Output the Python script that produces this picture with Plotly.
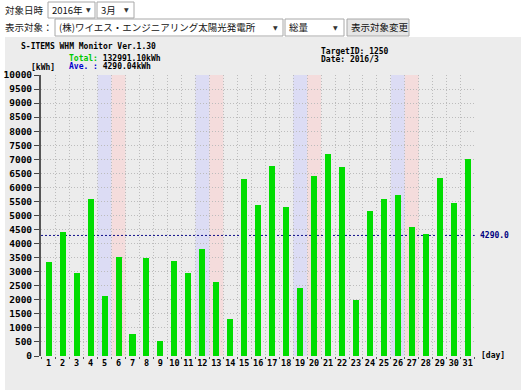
import plotly.graph_objects as go

# ---- data ----
days = list(range(1, 32))
kwh = [3330, 4400, 2950, 5570, 2150, 3530, 800, 3480, 530, 3370,
       2950, 3800, 2620, 1320, 6300, 5380, 6750, 5300, 2420, 6420,
       7180, 6720, 2000, 5170, 5580, 5720, 4600, 4350, 6320, 5430, 7020]
saturdays = [5, 12, 19, 26]
sundays = [6, 13, 20, 27]
y_ticks = list(range(0, 10001, 500))
total_kwh = 132991.10
ave_kwh = 4290.04

W, H = 524, 390
L, R, T, B = 41, 49, 75, 34
PW, PH = W - L - R, H - T - B


def px(x):
    return (x - L) / PW


def py(y):
    return (H - B - y) / PH


MONO = "DejaVu Sans Mono"
JP = "Noto Sans CJK JP"

fig = go.Figure()
fig.add_trace(go.Bar(x=days, y=kwh, width=0.43, marker=dict(color="#00dd00", line=dict(width=0)),
                     hoverinfo="skip"))

shapes = []
# gray panel
shapes.append(dict(type="rect", xref="paper", yref="paper", x0=px(5), x1=px(521), y0=py(37), y1=py(392),
                   fillcolor="#ececec", line=dict(width=0), layer="below"))
for d in saturdays:
    shapes.append(dict(type="rect", xref="x", yref="y", x0=d - 0.5, x1=d + 0.5, y0=0, y1=10000,
                       fillcolor="#dcdcf4", line=dict(width=0), layer="below"))
for d in sundays:
    shapes.append(dict(type="rect", xref="x", yref="y", x0=d - 0.5, x1=d + 0.5, y0=0, y1=10000,
                       fillcolor="#f4dcdc", line=dict(width=0), layer="below"))
shapes.append(dict(type="line", xref="x", yref="y", x0=0.45, x1=31.5, y0=ave_kwh, y1=ave_kwh,
                   line=dict(color="#10108a", width=1, dash="2px,2px"), layer="below"))

annotations = []


def text(x, y, s, size=8, color="black", family=MONO, xanchor="left"):
    annotations.append(dict(xref="paper", yref="paper", x=px(x), y=py(y), text=s, showarrow=False,
                            xanchor=xanchor, yanchor="middle", borderpad=0,
                            font=dict(family=family, size=size, color=color)))


# HTML controls at the top
text(4, 10, "対象日時", size=9.5, color="#222", family=JP)
text(4, 27, "表示対象：", size=9.5, color="#222", family=JP)
boxes = [
    (48, 2, 95, 18, "2016年", 88, False),
    (97, 2, 134, 18, "3月", 126, False),
    (55, 19, 283, 36, "(株)ワイエス・エンジニアリング太陽光発電所", 275, False),
    (285, 19, 344, 36, "総量", 335, False),
    (347, 19, 409, 36, "表示対象変更", None, True),
]
for x0, y0, x1, y1, s, ax, btn in boxes:
    shapes.append(dict(type="rect", xref="paper", yref="paper", x0=px(x0), x1=px(x1), y0=py(y0), y1=py(y1),
                       fillcolor="#e6e6e6" if btn else "white", line=dict(color="#a8a8a8", width=1)))
    text(x0 + 3, (y0 + y1) / 2, s, size=9.5, color="#111", family=JP)
    if ax is not None:
        text(ax, (y0 + y1) / 2, "▼", size=6, color="#333", family="DejaVu Sans", xanchor="center")

# chart header texts
text(20, 46, "<b>S-ITEMS WHM Monitor Ver.1.30</b>", size=8)
text(68, 59, "<b><span style='color:#00c800'>Total:</span> %.2fkWh</b>" % total_kwh, size=8)
text(30, 67, "<b>[kWh]</b>", size=8)
text(68, 66.5, "<b><span style='color:#0000cc'>Ave. :</span> %.2fkWh</b>" % ave_kwh, size=8)
text(320, 51, "<b>TargetID: 1250</b>", size=8)
text(320, 59.5, "<b>Date: 2016/3</b>", size=8)
text(480, 355, "<b>[day]</b>", size=8)
annotations.append(dict(xref="paper", yref="y", x=px(479), y=ave_kwh, text="<b>%.1f</b>" % ave_kwh,
                        showarrow=False, xanchor="left", yanchor="middle", borderpad=0,
                        font=dict(family=MONO, size=8, color="#000080")))

fig.update_layout(
    width=W, height=H, margin=dict(l=L, r=R, t=T, b=B, autoexpand=False),
    paper_bgcolor="white", plot_bgcolor="#ececec",
    showlegend=False, shapes=shapes, annotations=annotations,
    bargap=0,
    xaxis=dict(range=[0.45, 31.52], tickvals=days, ticktext=[str(d) for d in days], ticks="",
               showgrid=False, zeroline=False, showline=False, automargin=False,
               tickfont=dict(family=MONO, size=8.5, color="black", weight="bold"),
               minor=dict(tick0=0.5, dtick=1, ticks="outside", ticklen=2, tickcolor="#555",
                          showgrid=True, gridcolor="#bcbcbc", griddash="1px,2px", gridwidth=1)),
    yaxis=dict(range=[0, 10000], tickvals=y_ticks, ticktext=[str(v) for v in y_ticks],
               ticks="outside", ticklen=5, tickcolor="#444", showline=True, linecolor="#555", linewidth=2,
               showgrid=True, gridcolor="#bcbcbc", griddash="1px,2px", gridwidth=1, zeroline=False,
               automargin=False,
               tickfont=dict(family=MONO, size=9.5, color="black", weight="bold")),
)

fig.write_html("out.html", config={"displayModeBar": False},
               post_script="document.body.style.margin='0';document.body.style.overflow='hidden';")
